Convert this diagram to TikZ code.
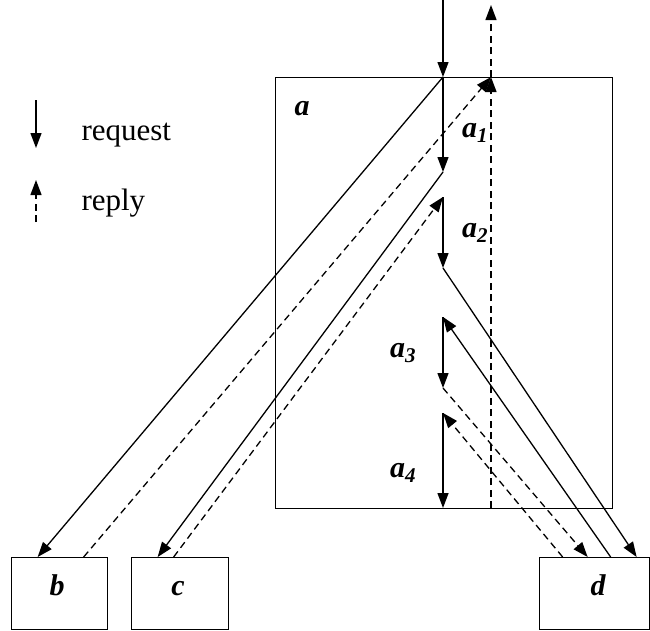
\documentclass[tikz,border=0pt]{standalone}
\usepackage{fontspec}
\setmainfont{Liberation Serif}
\usetikzlibrary{positioning,arrows.meta}

\begin{document}
\begin{tikzpicture}[x=1pt,y=-1pt,
    srv/.style={draw,line width=1.3pt,anchor=north west,inner sep=0pt,
                minimum height=72pt},
    req/.style={-{Triangle[length=15pt,width=11pt]},line width=1.3pt},
    rep/.style={req,dash pattern=on 7pt off 4.5pt},
    lbl/.style={anchor=base,font=\bfseries\itshape\fontsize{30}{32}\selectfont},
    txt/.style={anchor=base west,font=\fontsize{31}{34}\selectfont}
  ]
    \useasboundingbox (0,0) rectangle (650,630);
    % server a and its steps
    \node[draw,line width=1.3pt,anchor=north west,inner sep=0pt,
          minimum width=337pt,minimum height=431pt] (a) at (275,77) {};
    \node[lbl] (la) at (302,115) {a};
    \coordinate (top)  at (443,0);
    \coordinate (out)  at (491,5);
    \coordinate (p0) at (443,77);
    \coordinate (p1) at (443,172);
    \coordinate (p2) at (443,197);
    \coordinate (p3) at (443,268);
    \coordinate (p4) at (443,317);
    \coordinate (p5) at (443,388);
    \coordinate (p6) at (443,413);
    \coordinate (p7) at (443,508);
    \coordinate (q0) at (491,77);
    \coordinate (q7) at (491,508);
    \node[lbl] (l1) at (475,137) {a\textsubscript{1}};
    \node[lbl] (l2) at (475,237) {a\textsubscript{2}};
    \node[lbl] (l3) at (403,357) {a\textsubscript{3}};
    \node[lbl] (l4) at (403,477) {a\textsubscript{4}};
    % servers b, c, d
    \node[srv,minimum width=96pt]  (b) at (11,557)  {};
    \node[srv,minimum width=97pt]  (c) at (131,557) {};
    \node[srv,minimum width=110pt] (d) at (539,557) {};
    \node[lbl] (lb) at (57,595)  {b};
    \node[lbl] (lc) at (178,595) {c};
    \node[lbl] (ld) at (598,595) {d};
    % steps inside a
    \draw[req] (top) -- (p0);
    \draw[req] (p0) -- (p1);
    \draw[req] (p2) -- (p3);
    \draw[req] (p4) -- (p5);
    \draw[req] (p6) -- (p7);
    \draw[rep] (q7) -- (q0);
    \draw[rep] (q0) -- (out);
    % calls out of a
    \draw[req] (p0) -- ([xshift=-22pt]b.north);
    \draw[rep] ([xshift=24pt]b.north) -- (q0);
    \draw[req] (p1) -- ([xshift=-22.5pt]c.north);
    \draw[rep] ([xshift=-6.5pt]c.north) -- (p2);
    \draw[req] (p3) -- ([xshift=42pt]d.north);
    \draw[req] ([xshift=16pt]d.north) -- (p4);
    \draw[rep] (p5) -- ([xshift=-7pt]d.north);
    \draw[rep] ([xshift=-32pt]d.north) -- (p6);
    % legend
    \coordinate (r0) at (36,100);
    \coordinate (r1) at (36,148);
    \coordinate (s0) at (36,222);
    \coordinate (s1) at (36,180);
    \draw[req] (r0) -- (r1);
    \draw[rep] (s0) -- (s1);
    \node[txt] (treq) at (78,140) {request};
    \node[txt] (trep) at (78,210) {reply};
\end{tikzpicture}
\end{document}
